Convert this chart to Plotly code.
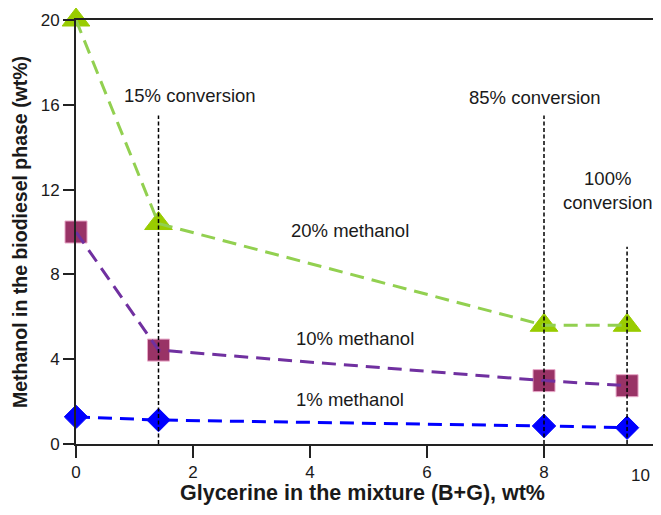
import plotly.graph_objects as go

glycerine = [0, 1.41, 8.0, 9.42]
meoh_20 = [20.0, 10.4, 5.6, 5.6]
meoh_10 = [10.0, 4.43, 2.99, 2.75]
meoh_1 = [1.28, 1.13, 0.85, 0.77]

conv_x = [1.41, 8.0, 9.42]
conv_top = [15.5, 15.5, 9.3]

labels = ["15% conversion", "85% conversion", "100%<br>conversion",
          "20% methanol", "10% methanol", "1% methanol"]
label_x = [1.95, 7.85, 9.08, 4.68, 4.77, 4.68]
label_y = [16.45, 16.35, 11.95, 10.05, 5.0, 2.12]

x_ticks = [0, 2, 4, 6, 8, 10]
y_ticks = [0, 4, 8, 12, 16, 20]

x_title = "Glycerine in the mixture (B+G), wt%"
y_title = "Methanol in the biodiesel phase (wt%)"

font = "Liberation Sans, Arial, sans-serif"
fig = go.Figure()

series = [
    (meoh_20, "triangle-up", "#99cc00", "#99cc00", "#92d050", 24),
    (meoh_10, "square", "#993366", "#e8a8c8", "#7030a0", 22),
    (meoh_1, "diamond", "#0000ff", "#0000ff", "#0000ff", 18),
]
for ys, sym, mc, edge, lc, sz in series:
    fig.add_trace(go.Scatter(x=glycerine, y=ys, mode="markers",
                             marker=dict(symbol=sym, size=sz, color=mc,
                                         line=dict(color=edge, width=1)),
                             cliponaxis=False, showlegend=False))
for ys, sym, mc, edge, lc, sz in series:
    fig.add_trace(go.Scatter(x=glycerine, y=ys, mode="lines",
                             line=dict(color=lc, width=3, dash="14px,8px"),
                             cliponaxis=False, showlegend=False))

for cx, ct in zip(conv_x, conv_top):
    fig.add_trace(go.Scatter(x=[cx, cx], y=[0, ct], mode="lines",
                             line=dict(color="black", width=1.5, dash="4px,2.5px"),
                             cliponaxis=False, showlegend=False))

for t, lx, ly in zip(labels, label_x, label_y):
    fig.add_annotation(x=lx, y=ly, text=t, showarrow=False,
                       font=dict(family=font, size=18.5, color="#1a1a1a"))

# last x tick label sits against the right edge, as in the reference
shown_ticks = x_ticks[:-1]
fig.add_annotation(x=x_ticks[-1], xref="x", yref="paper", y=0, yshift=-31, xshift=-9,
                   text=str(x_ticks[-1]), showarrow=False, xanchor="right",
                   yanchor="middle", font=dict(family=font, size=17, color="#1a1a1a"))

fig.add_annotation(xref="paper", yref="paper", x=0.489, y=0, yshift=-49,
                   text="<b>" + x_title + "</b>", showarrow=False,
                   yanchor="middle", font=dict(family=font, size=21.5, color="#1a1a1a"))
fig.add_annotation(xref="paper", yref="paper", x=0, y=0.5, xshift=-56,
                   text="<b>" + y_title + "</b>", showarrow=False, textangle=-90,
                   xanchor="center", font=dict(family=font, size=19.5, color="#1a1a1a"))

# page body has an 8px margin: compensate so the plot area lands at 76..661 x 20..444
fig.update_layout(
    width=653, height=499,
    margin=dict(l=68, r=0, t=12, b=63, autoexpand=False),
    plot_bgcolor="white", paper_bgcolor="white",
    font=dict(family=font, size=17, color="#1a1a1a"),
    xaxis=dict(range=[0, 10], tickvals=shown_ticks, showgrid=False, zeroline=False,
               showline=True, linecolor="#222", linewidth=2, mirror=True,
               ticks="outside", ticklen=12, tickwidth=2, tickcolor="#222",
               tickfont=dict(size=17), automargin=False),
    yaxis=dict(range=[0, 20], tickvals=y_ticks, showgrid=False, zeroline=False,
               showline=True, linecolor="#222", linewidth=2,
               ticks="outside", ticklen=11, tickwidth=2, tickcolor="#222",
               tickfont=dict(size=17), automargin=False),
)

fig.write_html("out.html")
